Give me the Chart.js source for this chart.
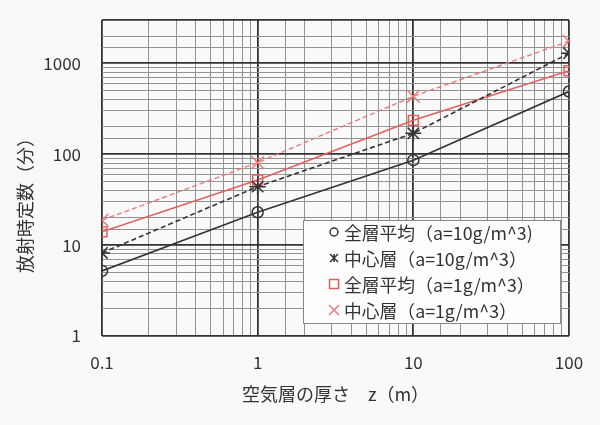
<!DOCTYPE html>
<html>
<head>
<meta charset="utf-8">
<script src="https://cdn.jsdelivr.net/npm/chart.js@4/dist/chart.umd.min.js"></script>
<style>
  body { margin: 0; background: #f9f9f9; }
</style>
</head>
<body>
<canvas id="myChart" width="600" height="425"></canvas>
<script>
// 空気層の厚さ z (m)
const thickness = [0.1, 1, 10, 100];
// 放射時定数 (分)
const avg10 = [5.2, 23, 86, 490];
const center10 = [8.2, 44, 170, 1290];
const avg1 = [14, 52, 236, 830];
const center1 = [18.8, 81, 434, 1750];

const seriesLabels = [
    '全層平均（a=10g/m^3)',
    '中心層（a=10g/m^3）',
    '全層平均（a=1g/m^3）',
    '中心層（a=1g/m^3）'
];
const xTitle = '空気層の厚さ　z（m）';
const yTitle = '放射時定数（分）';

const dark = '#333';
const red = '#e4605f';
const pink = '#ea7b7b';
const jp = '"Noto Sans CJK JP", "Noto Sans", sans-serif';

const toPoints = ys => thickness.map((x, i) => ({ x: x, y: ys[i] }));

const isDecade = v => Math.abs(Math.log10(v) - Math.round(Math.log10(v))) < 1e-9;

// legend box inside the plot + rotated y title
const extras = {
    id: 'extras',
    afterDraw(chart) {
        const ctx = chart.ctx;
        ctx.save();

        // y axis title
        ctx.fillStyle = dark;
        ctx.font = '18px ' + jp;
        ctx.textAlign = 'center';
        ctx.textBaseline = 'middle';
        ctx.translate(25, 201);
        ctx.rotate(-Math.PI / 2);
        ctx.fillText(yTitle, 0, 0);
        ctx.setTransform(1, 0, 0, 1, 0, 0);

        // legend box
        const bx = 303, by = 220, bw = 257, bh = 103;
        ctx.fillStyle = '#fdfdfd';
        ctx.fillRect(bx, by, bw, bh);
        ctx.strokeStyle = '#888';
        ctx.lineWidth = 1;
        ctx.strokeRect(bx + 0.5, by + 0.5, bw, bh);

        ctx.font = '17.8px ' + jp;
        ctx.textAlign = 'left';
        chart.data.datasets.forEach((ds, i) => {
            const y = 232 + i * 26;
            const mx = 334;
            ctx.strokeStyle = ds.borderColor;
            ctx.lineWidth = 1.5;
            ctx.beginPath();
            if (i === 0) {
                ctx.arc(mx, y, 4, 0, Math.PI * 2);
            } else if (i === 1) {
                ctx.moveTo(mx - 4, y - 4); ctx.lineTo(mx + 4, y + 4);
                ctx.moveTo(mx + 4, y - 4); ctx.lineTo(mx - 4, y + 4);
                ctx.moveTo(mx, y - 4); ctx.lineTo(mx, y + 4);
            } else if (i === 2) {
                ctx.rect(mx - 4.5, y - 4.5, 9, 9);
            } else {
                ctx.moveTo(mx - 5, y - 5); ctx.lineTo(mx + 5, y + 5);
                ctx.moveTo(mx + 5, y - 5); ctx.lineTo(mx - 5, y + 5);
            }
            ctx.stroke();
            ctx.fillStyle = dark;
            ctx.fillText(ds.label, 344, y + 1);
        });
        ctx.restore();
    }
};

const ctx = document.getElementById('myChart').getContext('2d');
new Chart(ctx, {
    type: 'line',
    data: {
        datasets: [
            {
                label: seriesLabels[0],
                data: toPoints(avg10),
                borderColor: dark,
                borderWidth: 1.6,
                pointStyle: 'circle',
                pointRadius: 5.5,
                pointBorderWidth: 1.5,
                pointBackgroundColor: 'rgba(0,0,0,0)',
                pointBorderColor: dark
            },
            {
                label: seriesLabels[1],
                data: toPoints(center10),
                borderColor: dark,
                borderWidth: 1.6,
                borderDash: [5, 3],
                pointStyle: 'star',
                pointRadius: 8,
                pointBorderWidth: 1.5,
                pointBorderColor: dark
            },
            {
                label: seriesLabels[2],
                data: toPoints(avg1),
                borderColor: red,
                borderWidth: 1.6,
                pointStyle: 'rect',
                pointRadius: 7,
                pointBorderWidth: 1.5,
                pointBackgroundColor: 'rgba(0,0,0,0)',
                pointBorderColor: red
            },
            {
                label: seriesLabels[3],
                data: toPoints(center1),
                borderColor: pink,
                borderWidth: 1.4,
                borderDash: [5, 3],
                pointStyle: 'crossRot',
                pointRadius: 9,
                pointBorderWidth: 1.5,
                pointBorderColor: pink
            }
        ]
    },
    options: {
        responsive: false,
        animation: false,
        layout: { padding: { top: 20, right: 31, left: 0, bottom: 0 } },
        plugins: {
            legend: { display: false },
            tooltip: { enabled: false }
        },
        scales: {
            x: {
                type: 'logarithmic',
                min: 0.1,
                max: 100,
                afterFit: scale => { scale.height = 89; },
                border: { display: false },
                grid: {
                    drawTicks: false,
                    color: c => isDecade(c.tick.value) ? dark : '#939393',
                    lineWidth: c => isDecade(c.tick.value) ? 1.8 : 1
                },
                ticks: {
                    autoSkip: false,
                    maxRotation: 0,
                    padding: 16,
                    color: dark,
                    font: { size: 17, family: jp },
                    callback: v => isDecade(v) ? String(v) : ''
                },
                title: {
                    display: true,
                    text: xTitle,
                    color: dark,
                    font: { size: 18, family: jp },
                    padding: { bottom: 20 }
                }
            },
            y: {
                type: 'logarithmic',
                min: 1,
                max: 3000,
                afterFit: scale => {
                    scale.width = 102;
                    scale.paddingTop = 0;
                    scale.paddingBottom = 0;
                },
                border: { display: false },
                grid: {
                    drawTicks: false,
                    color: c => (isDecade(c.tick.value) || c.tick.value === 3000) ? dark : '#939393',
                    lineWidth: c => (isDecade(c.tick.value) || c.tick.value === 3000) ? 1.8 : 1
                },
                ticks: {
                    autoSkip: false,
                    padding: 21,
                    color: dark,
                    font: { size: 17, family: jp },
                    callback: v => isDecade(v) ? String(v) : ''
                }
            }
        }
    },
    plugins: [extras]
});
</script>
</body>
</html>
